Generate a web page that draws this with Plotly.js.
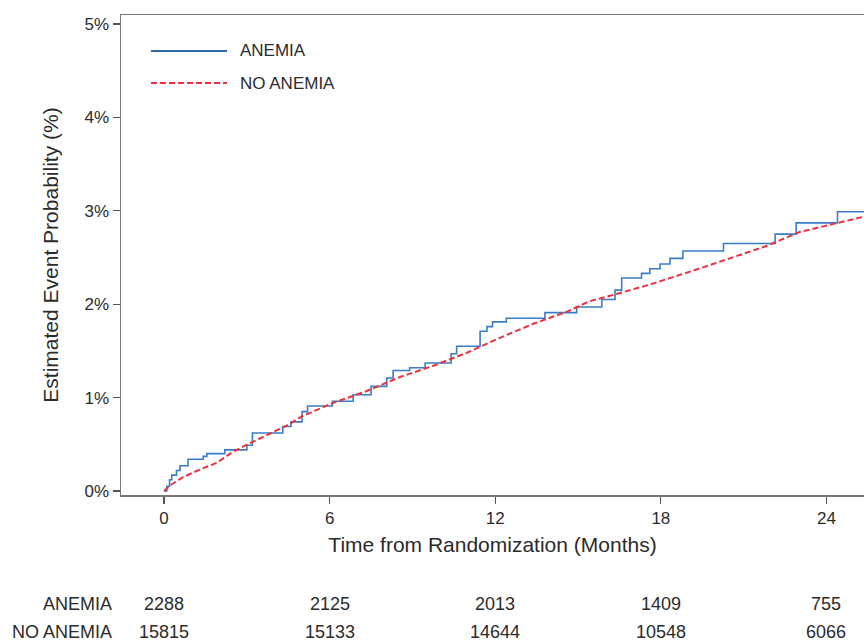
<!DOCTYPE html>
<html>
<head>
<meta charset="utf-8">
<script src="https://cdn.plot.ly/plotly-3.0.1.min.js"></script>
<style>html,body{margin:0;padding:0;background:#fff;}#chart{width:864px;height:642px;}</style>
</head>
<body>
<div id="chart"></div>
<script>
// Kaplan-Meier style cumulative event probability (%), by month
const anemiaMonths = [0, 0.1, 0.2, 0.28, 0.45, 0.58, 0.87, 1.42, 1.55, 2.2, 3.0, 3.2, 4.3, 4.6, 5.0, 5.2, 6.1, 6.85, 7.5, 8.07, 8.3, 8.9, 9.46, 10.4, 10.6, 11.45, 11.7, 11.9, 12.4, 13.8, 14.95, 15.86, 16.34, 16.58, 17.3, 17.6, 17.97, 18.33, 18.8, 20.27, 22.14, 22.9, 24.4, 25.4];
const anemiaProb   = [0, 0.05, 0.12, 0.17, 0.22, 0.27, 0.34, 0.37, 0.40, 0.44, 0.49, 0.62, 0.69, 0.74, 0.85, 0.91, 0.96, 1.03, 1.12, 1.21, 1.29, 1.32, 1.37, 1.47, 1.55, 1.71, 1.76, 1.81, 1.85, 1.91, 1.97, 2.05, 2.15, 2.28, 2.33, 2.38, 2.43, 2.49, 2.57, 2.65, 2.75, 2.87, 2.99, 2.99];

const noAnemiaMonths = [0, 0.22, 0.7, 1.3, 1.9, 2.5, 3.1, 3.72, 4.44, 5.0, 6.1, 7.34, 8.55, 9.75, 10.97, 12.17, 13.38, 14.6, 15.4, 16.16, 17.6, 19.18, 20.75, 21.8, 23.0, 24.25, 25.4];
const noAnemiaProb   = [0, 0.06, 0.15, 0.23, 0.30, 0.42, 0.51, 0.60, 0.70, 0.80, 0.94, 1.07, 1.22, 1.34, 1.48, 1.64, 1.79, 1.92, 2.03, 2.09, 2.21, 2.36, 2.52, 2.62, 2.77, 2.86, 2.94];

// axis ticks
const xTicks = [0, 6, 12, 18, 24];
const yTicks = [0, 1, 2, 3, 4, 5];
const yTickLabels = ['0%', '1%', '2%', '3%', '4%', '5%'];

// number at risk table
const groupNames = ['ANEMIA', 'NO ANEMIA'];
const riskAnemia = [2288, 2125, 2013, 1409, 755];
const riskNoAnemia = [15815, 15133, 14644, 10548, 6066];

const FONT = '"Liberation Sans", Arial, sans-serif';
const BLUE = '#3b7cc6';
const RED = '#e8323f';
const TXT = '#2b2b2b';

const traces = [
  {x: anemiaMonths, y: anemiaProb, name: groupNames[0], type: 'scatter', mode: 'lines',
   line: {color: BLUE, width: 1.6, shape: 'hv'}},
  {x: noAnemiaMonths, y: noAnemiaProb, name: groupNames[1], type: 'scatter', mode: 'lines',
   line: {color: RED, width: 2, dash: '6px,3px'}}
];

const PL = 121, PT = 15, PB = 495, PR = 864;
const pw = PR - PL, ph = PB - PT;
const px = v => (v - PL) / pw;
const py = v => (PB - v) / ph;

const annotations = [];
const rows = [riskAnemia, riskNoAnemia];
const rowY = [604, 632];
rows.forEach((row, r) => {
  annotations.push({xref: 'paper', yref: 'paper', x: px(114), y: py(rowY[r]), xanchor: 'right', yanchor: 'middle',
    text: groupNames[r], showarrow: false, font: {family: FONT, size: 18, color: TXT}});
  row.forEach((n, i) => {
    annotations.push({xref: 'x', yref: 'paper', x: xTicks[i], y: py(rowY[r]), xanchor: 'center', yanchor: 'middle',
      text: String(n), showarrow: false, font: {family: FONT, size: 18, color: TXT}});
  });
});
// legend labels
annotations.push({xref: 'paper', yref: 'paper', x: px(238), y: py(51), xanchor: 'left', yanchor: 'middle',
  text: groupNames[0], showarrow: false, font: {family: FONT, size: 17, color: TXT}});
annotations.push({xref: 'paper', yref: 'paper', x: px(238), y: py(83), xanchor: 'left', yanchor: 'middle',
  text: groupNames[1], showarrow: false, font: {family: FONT, size: 17, color: TXT}});

const shapes = [
  {type: 'line', xref: 'paper', yref: 'paper', x0: px(151), x1: px(227), y0: py(51), y1: py(51),
   line: {color: '#2f66b0', width: 2}},
  {type: 'line', xref: 'paper', yref: 'paper', x0: px(151), x1: px(227), y0: py(83), y1: py(83),
   line: {color: RED, width: 2, dash: '6px,3px'}}
];

const layout = {
  width: 864, height: 642,
  margin: {l: PL, r: 0, t: PT, b: 642 - PB, pad: 0},
  paper_bgcolor: '#fff', plot_bgcolor: '#fff',
  showlegend: false,
  font: {family: FONT, size: 17, color: TXT},
  xaxis: {
    range: [-1.56, 25.36], tickvals: xTicks, ticktext: xTicks.map(String),
    ticks: 'outside', ticklen: 7, tickwidth: 1.2, tickcolor: '#555',
    showline: true, linecolor: '#777', linewidth: 1.5, mirror: true,
    showgrid: false, zeroline: false, tickfont: {family: FONT, size: 17, color: TXT},
    title: {text: 'Time from Randomization (Months)', font: {family: FONT, size: 21, color: TXT}, standoff: 10}
  },
  yaxis: {
    range: [-0.043, 5.096], tickvals: yTicks, ticktext: yTickLabels,
    ticks: 'outside', ticklen: 7, tickwidth: 1.2, tickcolor: '#555',
    showline: true, linecolor: '#777', linewidth: 1.5,
    showgrid: false, zeroline: false, tickfont: {family: FONT, size: 17, color: TXT},
    title: {text: 'Estimated Event Probability (%)', font: {family: FONT, size: 21, color: TXT}, standoff: 20}
  },
  annotations: annotations,
  shapes: shapes
};

Plotly.newPlot('chart', traces, layout, {displayModeBar: false, staticPlot: true});
</script>
</body>
</html>
